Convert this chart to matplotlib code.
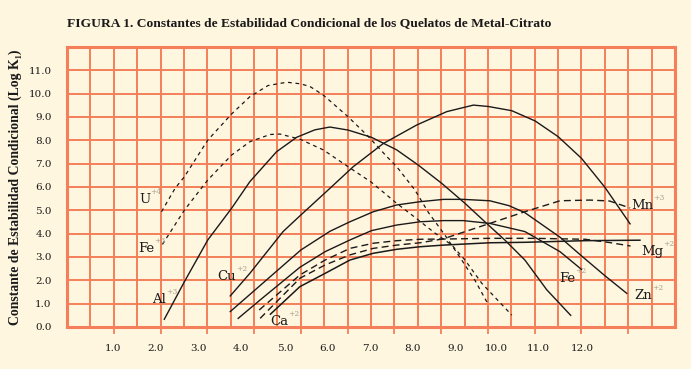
import numpy as np
import matplotlib
matplotlib.use("Agg")
import matplotlib.pyplot as plt
from matplotlib import transforms

# curves: x in axis-tick units (ticks at 1..12), y = log K
u4_x = [2.02, 2.31, 2.51, 3.01, 3.52, 3.91, 4.30, 4.70, 5.00, 5.20, 5.48, 6.01, 6.41, 6.84, 7.05, 7.44, 7.73, 8.08, 8.44, 8.72, 9.00]
u4_y = [4.94, 5.94, 6.44, 8.01, 9.13, 9.87, 10.35, 10.49, 10.42, 10.30, 9.94, 9.01, 8.23, 7.30, 6.87, 5.87, 4.90, 3.94, 2.87, 2.01, 0.99]

fe3_x = [2.04, 2.51, 3.01, 3.52, 3.91, 4.34, 4.55, 4.98, 5.48, 6.01, 6.51, 7.05, 7.51, 7.87, 8.23, 8.51, 8.87, 9.51]
fe3_y = [3.54, 5.01, 6.30, 7.37, 7.94, 8.25, 8.27, 8.05, 7.59, 6.87, 6.20, 5.30, 4.59, 4.02, 3.51, 2.87, 1.87, 0.51]

al3_x = [2.08, 2.51, 3.01, 3.52, 3.91, 4.48, 4.91, 5.30, 5.62, 6.01, 6.51, 7.05, 7.51, 8.01, 8.51, 9.01, 9.36, 9.79, 10.26, 10.77]
al3_y = [0.33, 1.94, 3.73, 5.09, 6.23, 7.51, 8.13, 8.45, 8.57, 8.44, 8.13, 7.59, 6.94, 6.16, 5.30, 4.37, 3.73, 2.87, 1.59, 0.50]

cu2_x = [3.49, 3.91, 4.62, 5.00, 5.62, 6.12, 6.76, 7.48, 8.12, 8.69, 9.01, 9.51, 10.01, 10.50, 11.00, 11.50, 12.04]
cu2_y = [1.33, 2.30, 4.09, 4.80, 5.94, 6.87, 7.86, 8.66, 9.23, 9.51, 9.45, 9.27, 8.83, 8.16, 7.23, 5.99, 4.42]

zn2_x = [3.49, 5.00, 5.62, 6.05, 6.55, 7.05, 7.55, 8.05, 8.47, 9.04, 9.45, 9.79, 10.54, 11.00, 11.50, 11.97]
zn2_y = [0.66, 3.30, 4.10, 4.51, 4.94, 5.23, 5.37, 5.47, 5.47, 5.41, 5.20, 4.90, 3.85, 3.05, 2.20, 1.44]

fe2_x = [3.66, 4.13, 4.98, 5.52, 6.05, 6.51, 7.05, 7.55, 8.05, 8.47, 9.04, 9.79, 10.54, 11.00]
fe2_y = [0.37, 1.16, 2.56, 3.23, 3.73, 4.13, 4.37, 4.51, 4.56, 4.56, 4.44, 4.09, 3.23, 2.47]

mn3_x = [4.13, 4.98, 5.52, 6.05, 6.55, 7.05, 7.55, 8.05, 9.04, 9.79, 10.54, 11.18, 11.60, 12.04]
mn3_y = [0.37, 2.09, 2.66, 3.09, 3.37, 3.51, 3.61, 3.78, 4.44, 4.94, 5.41, 5.44, 5.40, 5.10]

mg2_x = [4.11, 4.98, 5.52, 6.05, 6.55, 7.05, 7.55, 8.05, 9.04, 10.00, 11.08, 11.60, 12.05]
mg2_y = [0.73, 2.23, 2.87, 3.37, 3.59, 3.70, 3.76, 3.77, 3.80, 3.80, 3.76, 3.62, 3.47]

ca2_x = [4.35, 4.98, 5.52, 6.05, 6.55, 7.05, 7.55, 8.05, 9.04, 9.79, 11.08, 12.25]
ca2_y = [0.55, 1.73, 2.30, 2.87, 3.16, 3.33, 3.44, 3.51, 3.61, 3.63, 3.70, 3.72]

x_ticks = list(range(1, 13))
x_labels = ["1.0", "2.0", "3.0", "4.0", "5.0", "6.0", "7.0", "8.0", "9.0", "10.0", "11.0", "12.0"]
x_label_pos = [0.98, 1.89, 2.81, 3.71, 4.66, 5.56, 6.48, 7.38, 8.32, 9.17, 10.07, 11.01]
y_ticks = list(range(0, 12))
y_labels = [f"{v:.1f}" for v in y_ticks]

# curve labels: main text, superscript, x, y (baseline)
curve_labels = [
    ("U", "+4", 1.54, 5.31),
    ("Fe", "+3", 1.52, 3.21),
    ("Al", "+3", 1.82, 1.03),
    ("Cu", "+2", 3.21, 2.01),
    ("Ca", "+2", 4.34, 0.09),
    ("Fe", "+2", 10.52, 1.93),
    ("Mn", "+3", 12.06, 5.06),
    ("Mg", "+2", 12.27, 3.09),
    ("Zn", "+2", 12.14, 1.20),
]

BG = "#FFF6DF"
GRID = "#F47F5A"
INK = "#1a1a1a"
SUP = "#A8A090"
SERIF = ["DejaVu Serif"]
TITLE_FONT = ["Liberation Serif", "DejaVu Serif"]

fig = plt.figure(figsize=(6.91, 3.69), dpi=100, facecolor=BG)
ax = fig.add_axes([67 / 691, 42 / 369, 608 / 691, 280 / 369], facecolor=BG)
ax.set_xlim(0, 13)
ax.set_ylim(0, 12)

for gx in np.arange(0.5, 13, 0.5):
    ax.axvline(gx, color=GRID, lw=1.4, zorder=1)
for gy in range(1, 12):
    ax.axhline(gy, color=GRID, lw=1.4, zorder=1)

dash_short = (3, 3)
dash_long = (5, 3)
ax.plot(u4_x, u4_y, color=INK, lw=0.9, dashes=dash_short, zorder=3)
ax.plot(fe3_x, fe3_y, color=INK, lw=0.9, dashes=dash_short, zorder=3)
ax.plot(al3_x, al3_y, color=INK, lw=1.0, zorder=3)
ax.plot(cu2_x, cu2_y, color=INK, lw=1.0, zorder=3)
ax.plot(zn2_x, zn2_y, color=INK, lw=1.0, zorder=3)
ax.plot(fe2_x, fe2_y, color=INK, lw=1.0, zorder=3)
ax.plot(mn3_x, mn3_y, color=INK, lw=1.0, dashes=dash_long, zorder=3)
ax.plot(mg2_x, mg2_y, color=INK, lw=1.0, dashes=dash_long, zorder=3)
ax.plot(ca2_x, ca2_y, color=INK, lw=1.1, zorder=3)

for main, sup, lx, ly in curve_labels:
    t = ax.text(lx, ly, main, family=SERIF, fontsize=9.5, color=INK,
                ha="left", va="baseline", zorder=4)
    ax.annotate(sup, xy=(1.0, 0.75), xycoords=t, xytext=(0, 0),
                textcoords="offset points", family=SERIF, fontsize=5.5,
                color=SUP, ha="left", va="bottom", zorder=4)

for s in ax.spines.values():
    s.set_color(GRID)
    s.set_linewidth(2.2)

ax.set_xticks(x_ticks, [""] * len(x_ticks))
ax.tick_params(axis="x", which="major", direction="out", length=5, width=1.3, color=GRID)
trans = transforms.blended_transform_factory(ax.transData, ax.transAxes)
for pos, lab in zip(x_label_pos, x_labels):
    ax.text(pos, -0.078, lab, transform=trans, family=SERIF, fontsize=7.5,
            color=INK, ha="center", va="center")

ax.set_yticks(y_ticks, y_labels)
ax.tick_params(axis="y", length=0, pad=11, labelsize=7.5, labelcolor=INK)
for lab in ax.get_yticklabels():
    lab.set_family(SERIF)

fig.text(67 / 691, 1 - 26 / 369,
         "FIGURA 1. Constantes de Estabilidad Condicional de los Quelatos de Metal-Citrato",
         family=TITLE_FONT, fontsize=9.7, fontweight="bold", color=INK,
         ha="left", va="baseline")
fig.text(15 / 691, 1 - 187 / 369, "Constante de Estabilidad Condicional (Log K\u2081)",
         family=TITLE_FONT, fontsize=9.9, fontweight="bold", color=INK,
         rotation=90, ha="center", va="center")

fig.savefig("out.png", dpi=100, facecolor=BG)
